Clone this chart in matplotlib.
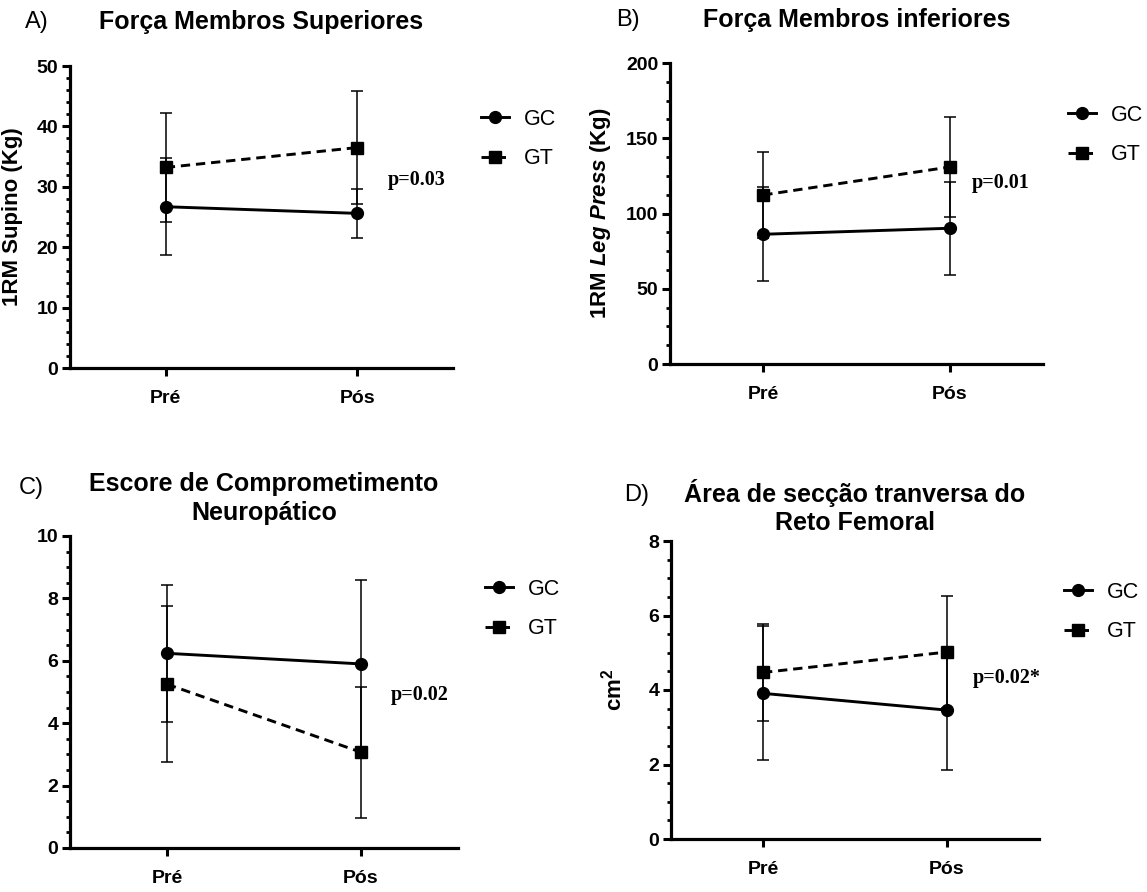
import matplotlib
matplotlib.use('Agg')
import matplotlib.pyplot as plt
from matplotlib.ticker import MultipleLocator

plt.rcParams['font.family'] = ['Liberation Sans', 'DejaVu Sans']
plt.rcParams['mathtext.fontset'] = 'custom'
plt.rcParams['mathtext.rm'] = 'Liberation Sans:bold'
plt.rcParams['mathtext.it'] = 'Liberation Sans:italic:bold'

# ------------------------- data -------------------------
momentos = ['Pré', 'Pós']
grupos = ['GC', 'GT']

# A) 1RM supino (kg)
gc_sup_media = [26.7, 25.6]
gc_sup_dp = [8.0, 4.1]
gt_sup_media = [33.2, 36.5]
gt_sup_dp = [9.0, 9.4]

# B) 1RM leg press (kg)
gc_inf_media = [86.2, 90.2]
gc_inf_dp = [31.3, 31.0]
gt_inf_media = [112.3, 130.9]
gt_inf_dp = [28.6, 33.4]

# C) escore de comprometimento neuropatico
gc_neu_media = [6.24, 5.90]
gc_neu_dp = [2.2, 2.68]
gt_neu_media = [5.25, 3.07]
gt_neu_dp = [2.5, 2.1]

# D) area de seccao transversa do reto femoral (cm2)
gc_rf_media = [3.91, 3.46]
gc_rf_dp = [1.8, 1.6]
gt_rf_media = [4.47, 5.02]
gt_rf_dp = [1.3, 1.5]

W, H = 1147, 892
fig = plt.figure(figsize=(W / 100, H / 100), dpi=100)


def px_rect(left, top, right, bottom):
    return [left / W, 1 - bottom / H, (right - left) / W, (bottom - top) / H]


def painel(rect, gc_m, gc_s, gt_m, gt_s, ymax, major, minor):
    ax = fig.add_axes(rect)
    x = list(range(len(momentos)))
    ax.errorbar(x, gc_m, yerr=gc_s, fmt='none', ecolor='black', elinewidth=1.1,
                capsize=4, capthick=1.1, zorder=2)
    ax.errorbar(x, gt_m, yerr=gt_s, fmt='none', ecolor='black', elinewidth=1.1,
                capsize=4, capthick=1.1, zorder=2)
    ax.plot(x, gc_m, color='black', lw=2.1, marker='o', markersize=8.5,
            label=grupos[0], zorder=3)
    ax.plot(x, gt_m, color='black', lw=2.1, marker='s', markersize=8,
            dashes=(3.2, 2.0), label=grupos[1], zorder=3)
    ax.set_xlim(-0.5, 1.5)
    ax.set_ylim(0, ymax)
    ax.set_xticks(x)
    ax.set_xticklabels(momentos)
    ax.yaxis.set_major_locator(MultipleLocator(major))
    ax.yaxis.set_minor_locator(MultipleLocator(minor))
    for s in ['top', 'right']:
        ax.spines[s].set_visible(False)
    for s in ['left', 'bottom']:
        ax.spines[s].set_linewidth(2.3)
    ax.tick_params(axis='both', which='major', length=5.5, width=2.2, direction='out',
                   labelsize=14, pad=3)
    ax.tick_params(axis='x', which='major', pad=10)
    ax.tick_params(axis='y', which='minor', length=3, width=2, direction='out')
    for lab in ax.get_xticklabels() + ax.get_yticklabels():
        lab.set_fontweight('bold')
    return ax


def legenda(ax, fx, fy):
    ax.legend(loc='center left', bbox_to_anchor=(fx / W, 1 - fy / H),
              bbox_transform=fig.transFigure, frameon=False, fontsize=15.5,
              handlelength=1.3, handletextpad=0.7, labelspacing=0.85,
              borderpad=0, borderaxespad=0)


def p_texto(ax, fx, fy, s):
    ax.text(fx, fy, s, transform=ax.transAxes, ha='left', va='center',
            family='Liberation Serif', fontweight='bold', fontsize=14.5)


# A
axA = painel(px_rect(70, 66, 453, 368), gc_sup_media, gc_sup_dp,
             gt_sup_media, gt_sup_dp, 50, 10, 2)
axA.text(0.5, 1.146, 'Força Membros Superiores', transform=axA.transAxes,
         ha='center', va='center', fontsize=18, fontweight='bold')
axA.set_ylabel('1RM Supino (Kg)', fontsize=16, fontweight='bold')
axA.yaxis.set_label_coords(-0.123, 0.5)
p_texto(axA, 0.830, 0.6225, 'p=0.03')
legenda(axA, 481, 139)

# B
axB = painel(px_rect(670, 63, 1043, 364), gc_inf_media, gc_inf_dp,
             gt_inf_media, gt_inf_dp, 200, 50, 12.5)
axB.text(0.5, 1.143, 'Força Membros inferiores', transform=axB.transAxes,
         ha='center', va='center', fontsize=18, fontweight='bold')
axB.set_ylabel(r'1RM $Leg\ Press$ (Kg)', fontsize=16, fontweight='bold')
axB.yaxis.set_label_coords(-0.153, 0.5)
p_texto(axB, 0.810, 0.601, 'p=0.01')
legenda(axB, 1068, 135)

# C
axC = painel(px_rect(70, 536, 458, 848), gc_neu_media, gc_neu_dp,
             gt_neu_media, gt_neu_dp, 10, 2, 0.5)
axC.text(0.5, 1.12, 'Escore de Comprometimento\nNeuropático', transform=axC.transAxes,
         ha='center', va='center', fontsize=18, fontweight='bold', linespacing=1.3)
p_texto(axC, 0.827, 0.490, 'p=0.02')
legenda(axC, 485, 609)

# D
axD = painel(px_rect(671, 541, 1039, 839), gc_rf_media, gc_rf_dp,
             gt_rf_media, gt_rf_dp, 8, 2, 0.5)
axD.text(0.5, 1.114, 'Área de secção tranversa do\nReto Femoral', transform=axD.transAxes,
         ha='center', va='center', fontsize=18, fontweight='bold', linespacing=1.2)
axD.set_ylabel(r'cm$^{2}$', fontsize=16, fontweight='bold')
axD.yaxis.set_label_coords(-0.12, 0.5)
p_texto(axD, 0.821, 0.540, 'p=0.02*')
legenda(axD, 1064, 612)

# panel letters
fig.text(37 / W, 1 - 22 / H, 'A)', ha='center', va='center', fontsize=17)
fig.text(628 / W, 1 - 20 / H, 'B)', ha='center', va='center', fontsize=17)
fig.text(31 / W, 1 - 488 / H, 'C)', ha='center', va='center', fontsize=17)
fig.text(637 / W, 1 - 495 / H, 'D)', ha='center', va='center', fontsize=17)

fig.savefig('out.png', dpi=100)
